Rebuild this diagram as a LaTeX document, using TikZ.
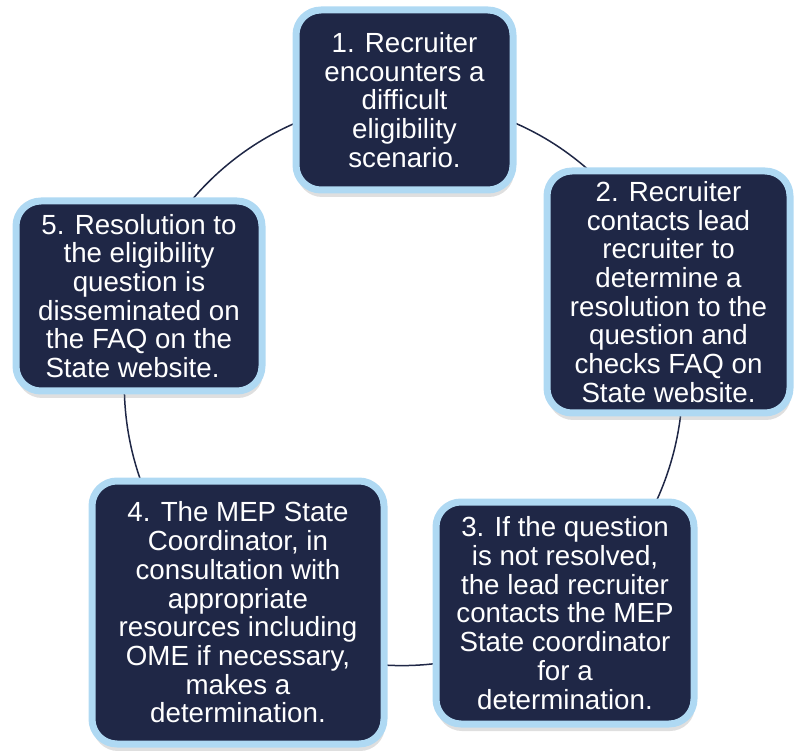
\documentclass[tikz,border=0pt]{standalone}
\usepackage{fontspec}
\setmainfont{Liberation Sans}
\usetikzlibrary{shadows}
\usetikzlibrary{backgrounds}
\definecolor{navy}{HTML}{1F2746}
\definecolor{paleblue}{HTML}{AFD9F3}
\tikzstyle{every path}=[line cap=round, line join=round]
\tikzstyle{stepbox}=[draw=paleblue, fill=navy, line width=7pt, rounded corners=25pt,
  text=white, align=center, inner sep=0pt,
  font=\fontsize{27.7pt}{28.7pt}\selectfont,
  drop shadow={shadow xshift=1pt, shadow yshift=-7pt, opacity=0.25}]
\tikzstyle{link}=[draw=navy, line width=1.5pt]

\begin{document}
\begin{tikzpicture}[x=1pt, y=1pt]
        \useasboundingbox (0,0) rectangle (794,750);
        %pasos
        \node[stepbox, minimum width=217pt, minimum height=180pt] (s1) at (404.5,650)
          {1. Recruiter\\encounters a\\difficult\\eligibility\\scenario.};
        \node[stepbox, minimum width=243pt, minimum height=242pt] (s2) at (668.5,458)
          {2. Recruiter\\contacts lead\\recruiter to\hspace*{30pt}\\determine a\hspace*{14pt}\\resolution to the\\question and\\checks FAQ on\\State website.};
        \node[stepbox, minimum width=258pt, minimum height=222pt] (s3) at (565,137)
          {3. If the question\\is not resolved,\hspace*{38pt}\\the lead recruiter\hspace*{9pt}\\contacts the MEP\hspace*{9pt}\\State coordinator\hspace*{9pt}\\for a\\determination.};
        \node[stepbox, minimum width=292pt, minimum height=263pt] (s4) at (238,137.5)
          {4. The MEP State\\Coordinator, in\hspace*{24pt}\\consultation with\\appropriate\\resources including\\OME if necessary,\\makes a\\determination.};
        \node[stepbox, minimum width=246pt, minimum height=190pt] (s5) at (139,454)
          {5. Resolution to\\the eligibility\\question is\hspace*{17pt}\\disseminated on\\the FAQ on the\\State website.\hspace*{13pt}};
        %ciclo
        \begin{scope}[on background layer]
        \draw[link] (s1.center) to[bend left=36, looseness=0.94] (s2.center);
        \draw[link] (s2.center) to[bend left=36, looseness=0.94] (s3.center);
        \draw[link] (s3.center) to[bend left=36, looseness=0.94] (s4.center);
        \draw[link] (s4.center) to[bend left=36, looseness=0.94] (s5.center);
        \draw[link] (s5.center) to[bend left=36, looseness=0.94] (s1.center);
        \end{scope}
\end{tikzpicture}
\end{document}
